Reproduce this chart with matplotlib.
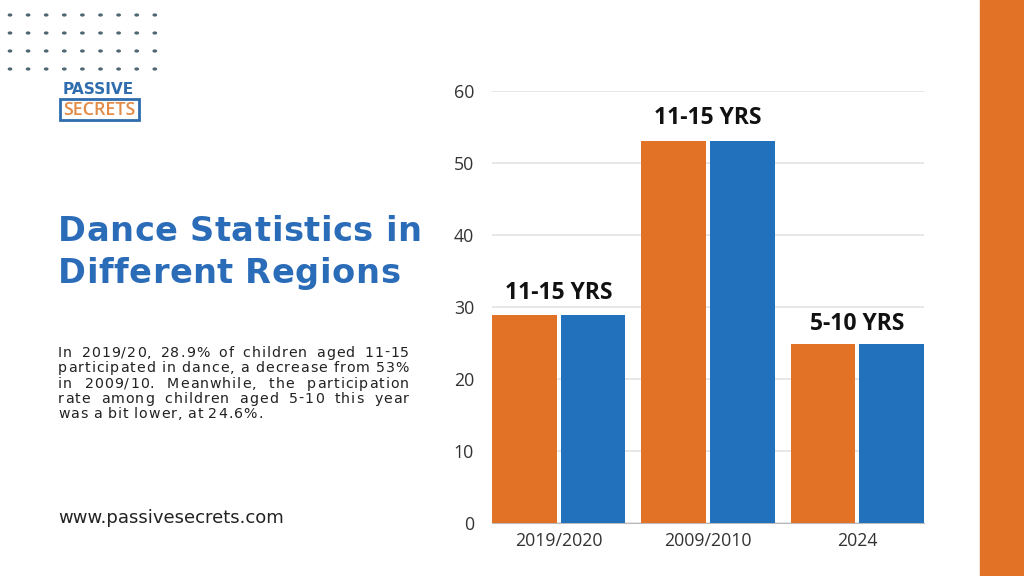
import matplotlib
matplotlib.use("Agg")
import matplotlib.pyplot as plt
import numpy as np
from matplotlib.patches import Rectangle

# ---- data ----
categories = ["2019/2020", "2009/2010", "2024"]
series_a = [28.9, 53.0, 24.9]   # orange
series_b = [28.9, 53.0, 24.9]   # blue
group_labels = ["11-15 YRS", "11-15 YRS", "5-10 YRS"]
yticks = [0, 10, 20, 30, 40, 50, 60]

title_lines = ["Dance Statistics in", "Different Regions"]
para_lines = [
    "In 2019/20, 28.9% of children aged 11-15",
    "participated in dance, a decrease from 53%",
    "in 2009/10. Meanwhile, the participation",
    "rate among children aged 5-10 this year",
    "was a bit lower, at 24.6%.",
]
website = "www.passivesecrets.com"

ORANGE = "#E27226"
BLUE = "#2271BD"
TITLE_BLUE = "#2B6CB8"

plt.rcParams['font.family'] = ['Open Sans', 'DejaVu Sans']

W, H = 1024, 576
fig = plt.figure(figsize=(W / 100, H / 100), dpi=100)
fig.patch.set_facecolor("white")
renderer = fig.canvas.get_renderer()

def fx(px):
    return px / W

def fy(py):
    return 1 - py / H

_tmp = fig.text(0, 0, "", family="DejaVu Sans")

def tw(s, fs, weight="normal"):
    _tmp.set_text(s)
    _tmp.set_fontsize(fs)
    _tmp.set_fontweight(weight)
    return _tmp.get_window_extent(renderer).width

def fit(t, target):
    for _ in range(3):
        w = t.get_window_extent(renderer).width
        t.set_fontsize(t.get_fontsize() * target / w)
    return t

def word_layout(word, fs, weight, track):
    offs = []
    for k, ch in enumerate(word):
        pos = tw(word[:k + 1], fs, weight) - tw(ch, fs, weight) + k * track
        offs.append(pos)
    width = tw(word, fs, weight) + (len(word) - 1) * track
    return offs, width

def draw_line(words_list, x_start, x_end, ybase, fs, weight, color, track,
              justify=True, space=None):
    layouts = [word_layout(w, fs, weight, track) for w in words_list]
    total = sum(l[1] for l in layouts)
    if justify and len(words_list) > 1:
        gap = (x_end - x_start - total) / (len(words_list) - 1)
    else:
        gap = space
    cx = x_start
    for w, (offs, width) in zip(words_list, layouts):
        if track == 0:
            fig.text(fx(cx), fy(ybase), w, fontsize=fs, fontweight=weight, color=color,
                     ha="left", va="baseline", family="DejaVu Sans")
        else:
            for ch, o in zip(w, offs):
                fig.text(fx(cx + o), fy(ybase), ch, fontsize=fs, fontweight=weight, color=color,
                         ha="left", va="baseline", family="DejaVu Sans")
        cx += width + gap

# right orange strip
fig.patches.append(Rectangle((fx(980), 0), fx(44), 1, transform=fig.transFigure,
                             color=ORANGE, zorder=0))

# dot grid
for yy in [-3, 15, 33, 51, 69]:
    for c in range(9):
        xx = 10 + c * 18.1
        fig.patches.append(plt.Circle((fx(xx), fy(yy)), 0.0016, transform=fig.transFigure,
                                      color="#4d6672", zorder=1))

# logo
t = fig.text(fx(63), fy(89), "PASSIVE", color="#2F6DAE", fontsize=12, fontweight="bold",
             ha="left", va="center", family="DejaVu Sans")
fit(t, 71)
fig.patches.append(Rectangle((fx(60), fy(120)), fx(79), 21 / H, transform=fig.transFigure,
                             fill=False, edgecolor="#2F6DAE", linewidth=2))
t = fig.text(fx(63.5), fy(110), "SECRETS", color="#E38A45", fontsize=11, fontweight="semibold",
             ha="left", va="center")
fit(t, 72)

# title
tfs = 24.2
nat = tw(title_lines[0], tfs, "bold")
title_track = max(0.0, (364 - nat) / (len(title_lines[0]) - 1))
space_w = tw("a a", tfs, "bold") - tw("aa", tfs, "bold")
for line, yb in zip(title_lines, [241.5, 283.3]):
    draw_line(line.split(" "), 58, None, yb, tfs, "bold", TITLE_BLUE, title_track,
              justify=False, space=space_w + title_track)

# justified paragraph
pfs = 10.2
x0, x1 = 58, 409
ref_line = para_lines[1]
sp_nat = tw("a a", pfs) - tw("aa", pfs)
nat_w = tw(ref_line, pfs)
p_track = max(0.0, (x1 - x0 - nat_w) / (len(ref_line) - 1 - ref_line.count(" ")) * 0.9)
base0 = 356.7
for i, line in enumerate(para_lines):
    yb = base0 + 15.45 * i
    last = i == len(para_lines) - 1
    draw_line(line.split(" "), x0, x1, yb, pfs, "normal", "#222222", p_track,
              justify=not last, space=sp_nat + p_track)

# website
t = fig.text(fx(58), fy(518), website, fontsize=12, color="#222222", ha="left", va="center",
             family="DejaVu Sans")
fit(t, 225)
_tmp.remove()

# chart
ax = fig.add_axes([fx(492), fy(522.7), fx(924 - 492), (522.7 - 91) / H])
x = np.arange(len(categories))
bw = 0.432
gap = 0.029
ax.bar(x - (bw + gap) / 2, series_a, width=bw, color=ORANGE, zorder=3)
ax.bar(x + (bw + gap) / 2, series_b, width=bw, color=BLUE, zorder=3)
ax.set_xlim(-0.448, 2.448)
ax.set_ylim(0, 60)
ax.set_yticks(yticks)
ax.set_xticks(x)
ax.set_xticklabels(categories)
ax.tick_params(axis="both", length=0, labelsize=12.8, labelcolor="#333333")
ax.tick_params(axis="y", pad=13)
ax.tick_params(axis="x", pad=7)
for s in ["top", "right", "left"]:
    ax.spines[s].set_visible(False)
ax.spines["bottom"].set_color("#bbbbbb")
ax.yaxis.grid(True, color="#e3e3e3", linewidth=1.2, zorder=0)
ax.set_facecolor("none")

offsets = [1.3, 1.6, 1.1]
for xi, v, lab, off in zip(x, series_a, group_labels, offsets):
    ax.text(xi, v + off, lab, ha="center", va="bottom", fontsize=16.5, fontweight="bold",
            color="#111111")

fig.savefig("out.png", dpi=100, facecolor="white")
